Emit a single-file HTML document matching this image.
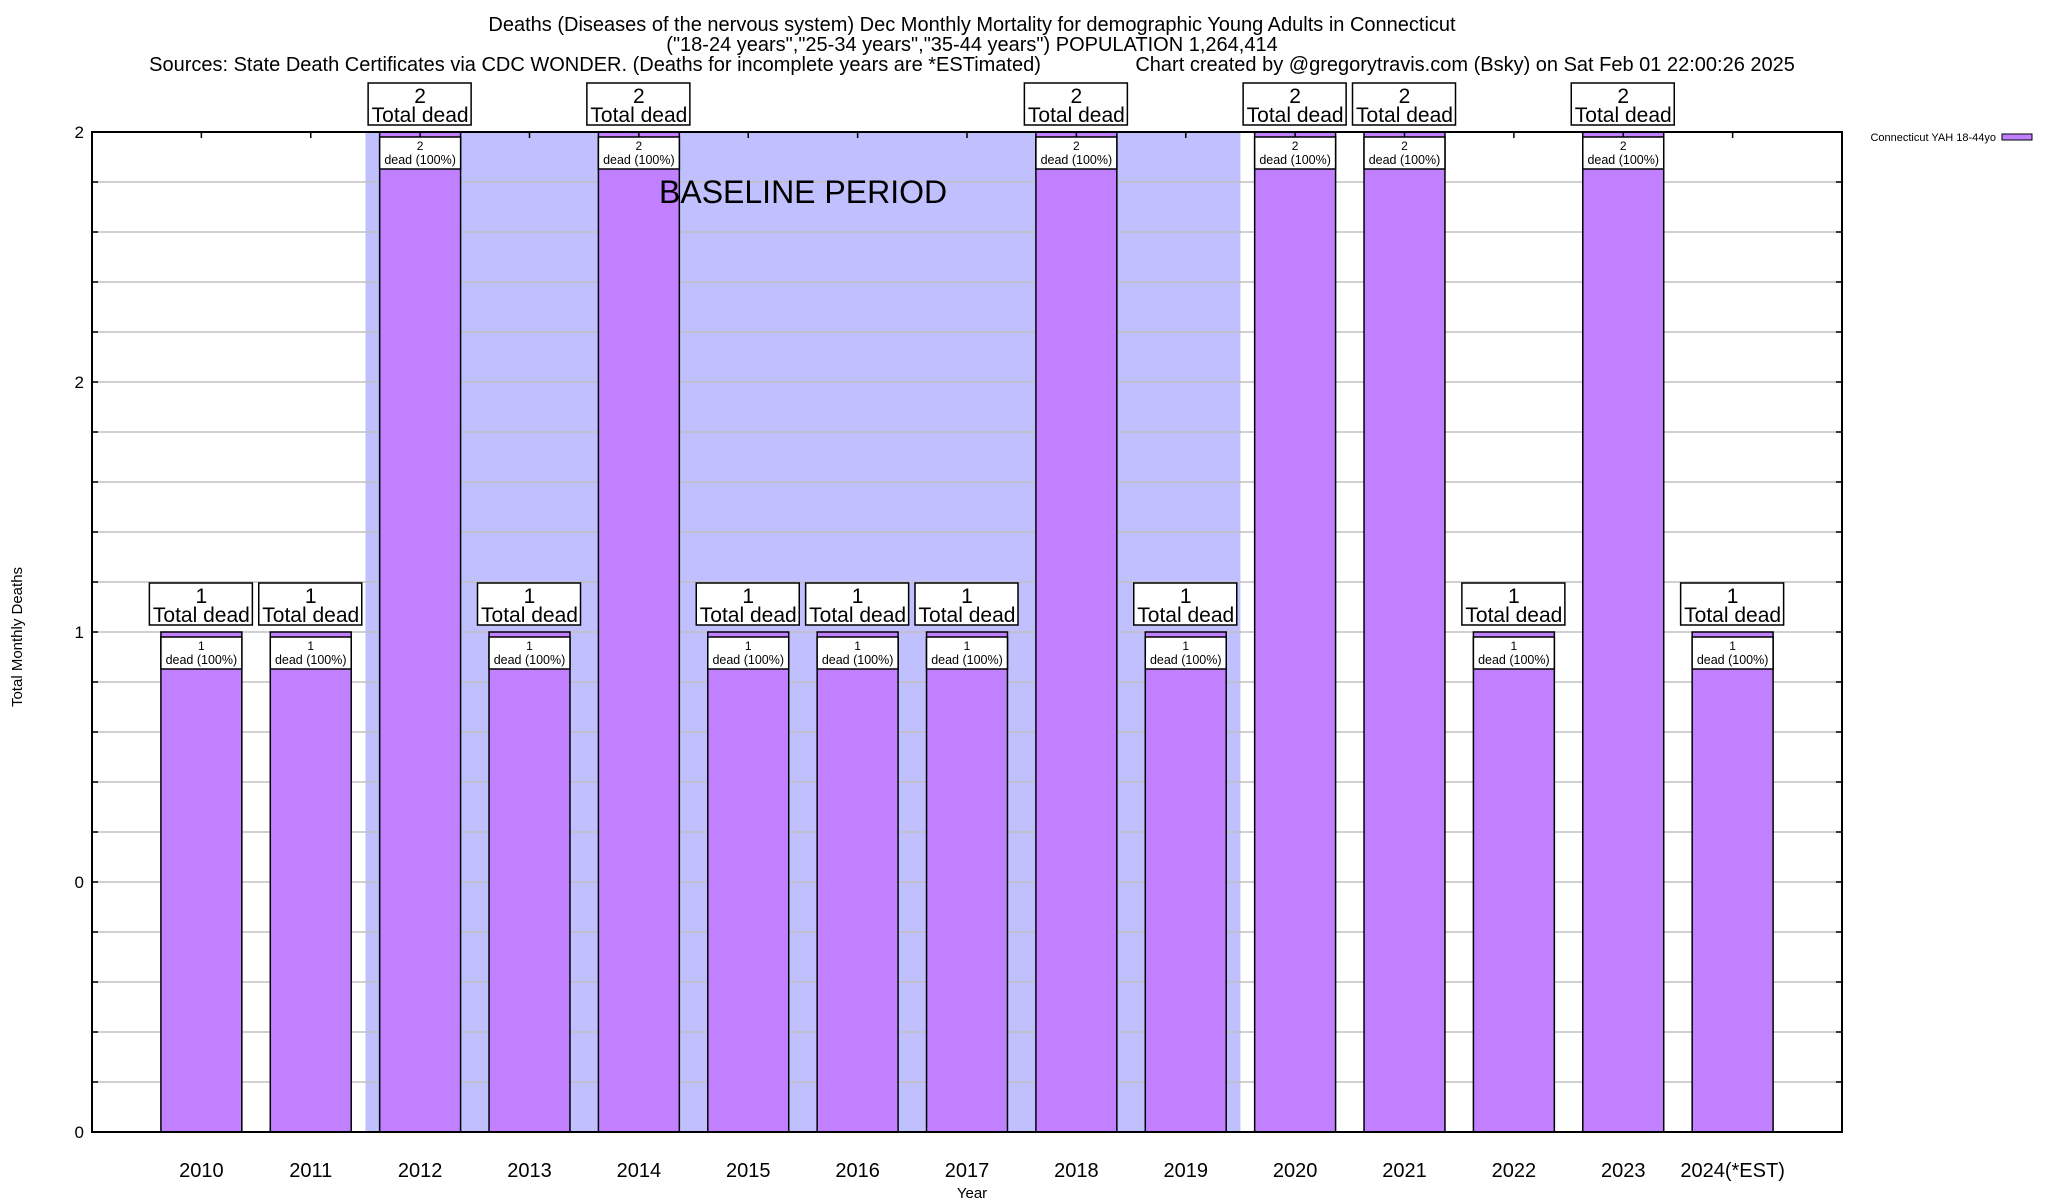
<!DOCTYPE html>
<html><head><meta charset="utf-8"><style>
html,body{margin:0;padding:0;background:#fff;}
svg{display:block;font-family:"Liberation Sans",sans-serif;}
</style></head><body>
<svg id="chart" width="2048" height="1200" viewBox="0 0 2048 1200">
<g font-size="20" text-anchor="middle" fill="#000">
<text x="972" y="31">Deaths (Diseases of the nervous system) Dec Monthly Mortality for demographic Young Adults in Connecticut</text>
<text x="972" y="51">("18-24 years","25-34 years","35-44 years") POPULATION 1,264,414</text>
<text x="972" y="71" xml:space="preserve">Sources: State Death Certificates via CDC WONDER. (Deaths for incomplete years are *ESTimated)                 Chart created by @gregorytravis.com (Bsky) on Sat Feb 01 22:00:26 2025</text>
</g>
<g id="shade"></g>
<g id="grid"></g>
<g id="bars"></g>
<rect x="92" y="132" width="1750" height="1000" fill="none" stroke="#000" stroke-width="2"/>
<g id="ticks"></g>
<g id="labels"></g>
<text x="659" y="203" font-size="32">BASELINE PERIOD</text>
<text transform="translate(22,637) rotate(-90)" font-size="15" text-anchor="middle">Total Monthly Deaths</text>
<text x="972" y="1198" font-size="15" text-anchor="middle">Year</text>
<g>
<text x="1996" y="141" font-size="11" text-anchor="end">Connecticut YAH 18-44yo</text>
<rect x="2002" y="134" width="30" height="6" fill="#c080ff" stroke="#000" stroke-width="1"/>
</g>
</svg>
<script>
const categories=["2010","2011","2012","2013","2014","2015","2016","2017","2018","2019","2020","2021","2022","2023","2024(*EST)"];
const deaths=[1,1,2,1,2,1,1,1,2,1,2,2,1,2,1];
const percents=["100%","100%","100%","100%","100%","100%","100%","100%","100%","100%","100%","100%","100%","100%","100%"];
const yTickValues=[0,0.5,1,1.5,2];
const yTickLabels=["0","0","1","2","2"];
const baselineRange=[1.5,9.5];
const NS="http://www.w3.org/2000/svg";
const L=92,R=1842,T=132,B=1132,yMax=2;
function xs(i){return L+(i+1)*(R-L)/(categories.length+1);}
function ys(v){return B-(v/yMax)*(B-T);}
function mk(tag,attrs,parent){const e=document.createElementNS(NS,tag);for(const k in attrs)e.setAttribute(k,attrs[k]);parent.appendChild(e);return e;}
const g=id=>document.getElementById(id);
const sh=mk('rect',{x:xs(baselineRange[0]),y:T,width:xs(baselineRange[1])-xs(baselineRange[0]),height:B-T,fill:'#c0c0ff'},g('shade'));


for(let k=1;k<20;k++){const v=k*0.1;const y=ys(v);
const ln=mk('line',{x1:L,x2:R,y1:y,y2:y,stroke:'#c0c0c0','stroke-width':1.5},g('grid'));


const t1=mk('line',{x1:L,x2:L+6,y1:y,y2:y,stroke:'#000','stroke-width':1.5},g('ticks'));


const t2=mk('line',{x1:R-6,x2:R,y1:y,y2:y,stroke:'#000','stroke-width':1.5},g('ticks'));

}
yTickValues.forEach((v,i)=>{const t=mk('text',{x:84,y:ys(v)+6,'font-size':17,'text-anchor':'end'},g('labels'));t.textContent=yTickLabels[i];

});
const bw=(R-L)/(categories.length+1)*0.74;
categories.forEach((c,i)=>{const cx=xs(i),v=deaths[i],yt=ys(v);
const tk=mk('line',{x1:cx,x2:cx,y1:T,y2:T+6,stroke:'#000','stroke-width':1.5},g('ticks'));


const b=mk('rect',{x:cx-bw/2,y:yt,width:bw,height:B-yt,fill:'#c080ff',stroke:'#000','stroke-width':1.5},g('bars'));


const ib=mk('rect',{x:cx-bw/2,y:yt+5,width:bw,height:32,fill:'#fff',stroke:'#000','stroke-width':1.5},g('labels'));


const i1=mk('text',{x:cx,y:yt+18,'font-size':12,'text-anchor':'middle'},g('labels'));i1.textContent=v;


const i2=mk('text',{x:cx,y:yt+32,'font-size':12.5,'text-anchor':'middle'},g('labels'));i2.textContent='dead ('+percents[i]+')';


const ob=mk('rect',{x:cx-52,y:yt-49,width:103,height:42,fill:'#fff',stroke:'#000','stroke-width':1.5},g('labels'));


const o1=mk('text',{x:cx,y:yt-29,'font-size':21,'text-anchor':'middle'},g('labels'));o1.textContent=v;


const o2=mk('text',{x:cx,y:yt-10,'font-size':21,'text-anchor':'middle'},g('labels'));o2.textContent='Total dead';


const xl=mk('text',{x:cx,y:1177,'font-size':20,'text-anchor':'middle'},g('labels'));xl.textContent=c;

});
</script>
</body></html>
